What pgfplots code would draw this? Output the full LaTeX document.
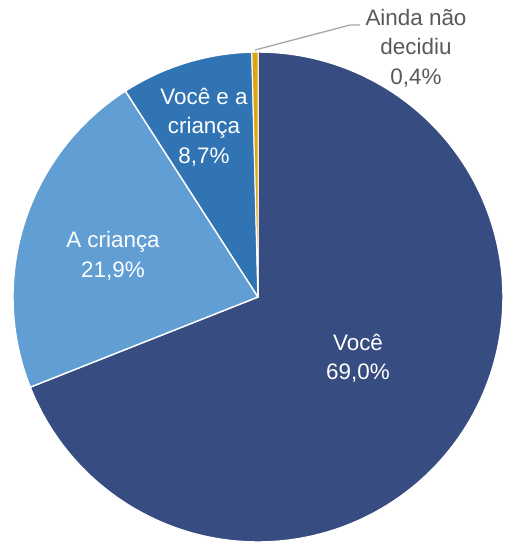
\documentclass[border=0pt]{standalone}
\usepackage{pgfplots}
\pgfplotsset{compat=1.18}
\usepackage{fontspec}
\setmainfont{Liberation Sans}
\definecolor{cVoce}{HTML}{374C80}
\definecolor{cCrianca}{HTML}{619ED4}
\definecolor{cAmbos}{HTML}{3174B4}
\definecolor{cAinda}{HTML}{DDA313}
\definecolor{cLabel}{HTML}{595959}
\definecolor{cLine}{HTML}{A6A6A6}
\begin{document}
\begin{tikzpicture}
\def\cx{258}\def\cy{297}\def\R{245}
% shares (percent)
\def\vA{69.0}\def\vB{21.9}\def\vC{8.7}\def\vD{0.4}
\pgfmathsetmacro\aA{90}
\pgfmathsetmacro\aB{\aA-3.6*\vA}
\pgfmathsetmacro\aC{\aB-3.6*\vB}
\pgfmathsetmacro\aD{\aC-3.6*\vC}
\pgfmathsetmacro\aE{\aD-3.6*\vD}
\begin{axis}[x=1bp,y=1bp,y dir=reverse,scale only axis,
  xmin=0,xmax=505,ymin=0,ymax=542,hide axis,clip=false]
\addplot[fill=cVoce,draw=white,line width=1.4bp,line join=round,domain=\aB:\aA,samples=150]
  ({\cx+\R*cos(x)},{\cy-\R*sin(x)}) -- (axis cs:\cx,\cy) -- cycle;
\addplot[fill=cCrianca,draw=white,line width=1.4bp,line join=round,domain=\aC:\aB,samples=60]
  ({\cx+\R*cos(x)},{\cy-\R*sin(x)}) -- (axis cs:\cx,\cy) -- cycle;
\addplot[fill=cAmbos,draw=white,line width=1.4bp,line join=round,domain=\aD:\aC,samples=30]
  ({\cx+\R*cos(x)},{\cy-\R*sin(x)}) -- (axis cs:\cx,\cy) -- cycle;
\addplot[fill=cAinda,draw=white,line width=1.0bp,line join=round,domain=\aE:\aD,samples=5]
  ({\cx+\R*cos(x)},{\cy-\R*sin(x)}) -- (axis cs:\cx,\cy) -- cycle;
\addplot[cLine,line width=1.3bp] coordinates {(255,50) (350,25) (360,25)};
\node[align=center,text=white,font=\fontsize{22.5}{29.5}\selectfont] at (axis cs:358,358) {Você\\69,0\%};
\node[align=center,text=white,font=\fontsize{22.5}{29.5}\selectfont] at (axis cs:113,256) {A criança\\21,9\%};
\node[align=center,text=white,font=\fontsize{22.5}{29.5}\selectfont] at (axis cs:204,127) {Você e a\\criança\\8,7\%};
\node[align=center,text=cLabel,font=\fontsize{22.5}{29.5}\selectfont] at (axis cs:416,48) {Ainda não\\decidiu\\0,4\%};
\end{axis}
\pgfresetboundingbox
\path[use as bounding box] (current axis.south west) rectangle (current axis.north east);
\end{tikzpicture}
\end{document}
